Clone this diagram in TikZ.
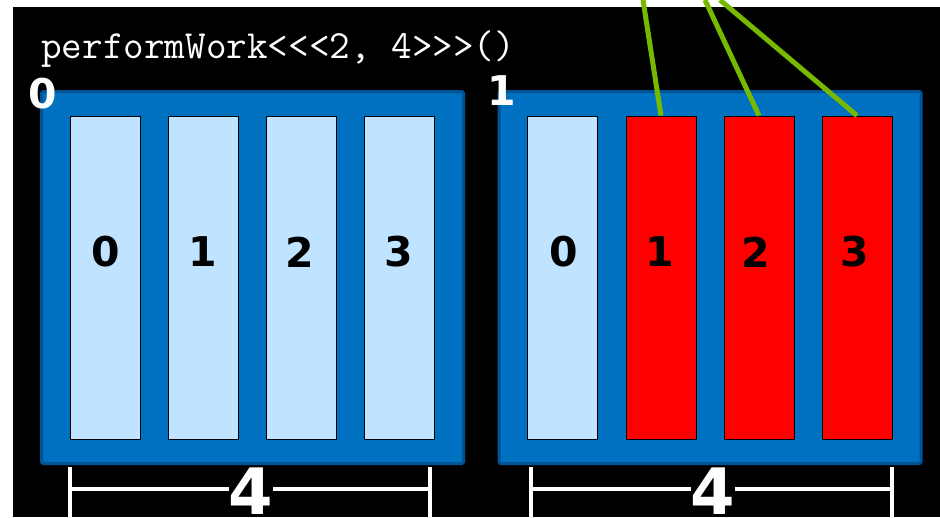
\documentclass[tikz,border=0pt]{standalone}
\usepackage{fontspec}
\setmainfont{DejaVu Sans}
\definecolor{blockblue}{RGB}{0,112,192}
\definecolor{blockedge}{RGB}{0,84,150}
\definecolor{threadblue}{RGB}{192,228,255}
\definecolor{nvgreen}{RGB}{118,185,0}
\tikzset{
  block/.style={draw=blockedge, line width=3pt, fill=blockblue, rounded corners=1.5pt,
    minimum width=422pt, minimum height=372pt, inner sep=0pt},
  thread/.style={draw=black, line width=0.8pt, fill=threadblue,
    minimum width=70pt, minimum height=323pt, inner sep=0pt},
  busy/.style={thread, fill=red},
  num/.style={font=\bfseries\fontsize{41}{41}\selectfont, text=black, inner sep=0pt},
  blocklabel/.style={font=\bfseries\fontsize{41}{41}\selectfont, text=white, inner sep=0pt},
  dimline/.style={draw=white, line width=4.5pt},
  dimlabel/.style={font=\bfseries\fontsize{64}{64}\selectfont, text=white, fill=black, inner sep=0pt, anchor=north},
  warpline/.style={draw=nvgreen, line width=5pt},
}
\begin{document}
\begin{tikzpicture}[x=1pt,y=-1pt]
\useasboundingbox (0,0) rectangle (940,517);
\fill[white] (0,0) rectangle (940,517);
\fill[black] (13,7) rectangle (940,517);

\node[anchor=base west, inner sep=0pt, text=white, font=\ttfamily\fontsize{40}{40}\selectfont] (code) at (41,58) {performWork<<<2, 4>>>()};

% blocks
\node[block] (b0) at (252.5,277.5) {};
\node[block] (b1) at (710,277.5) {};

% threads of block 0
\node[thread] (t00) at (105,277.5) {};
\node[thread] (t01) at (203,277.5) {};
\node[thread] (t02) at (301,277.5) {};
\node[thread] (t03) at (399,277.5) {};
% threads of block 1
\node[thread] (t10) at (562,277.5) {};
\node[busy] (t11) at (661,277.5) {};
\node[busy] (t12) at (759,277.5) {};
\node[busy] (t13) at (857,277.5) {};

\node[num] (n00) at (106,252) {0};
\node[num] (n01) at (203,252) {1};
\node[num] (n02) at (300,252) {2};
\node[num] (n03) at (399,252) {3};
\node[num] (n10) at (564,252) {0};
\node[num] (n11) at (660,252) {1};
\node[num] (n12) at (756,252) {2};
\node[num] (n13) at (855,252) {3};

\node[blocklabel] (l0) at (42.5,94) {0};
\node[blocklabel] (l1) at (502,91) {1};

% green lines
\coordinate (g1) at (643,0);
\coordinate (g2) at (705,0);
\coordinate (g3) at (720,0);
\draw[warpline] (g1) -- (t11.north);
\draw[warpline] (g2) -- (t12.north);
\draw[warpline] (g3) -- (t13.north);

% dimension lines
\coordinate (d0a) at (70,467);
\coordinate (d0b) at (430,467);
\coordinate (d1a) at (531,467);
\coordinate (d1b) at (892,467);
\draw[dimline] (d0a) -- (70,517);
\draw[dimline] (d0b) -- (430,517);
\draw[dimline] (70,489) -- (430,489);
\draw[dimline] (d1a) -- (531,517);
\draw[dimline] (d1b) -- (892,517);
\draw[dimline] (531,489) -- (892,489);
\node[dimlabel] (w0) at (251,468) {4};
\node[dimlabel] (w1) at (713,468) {4};
\end{tikzpicture}
\end{document}
